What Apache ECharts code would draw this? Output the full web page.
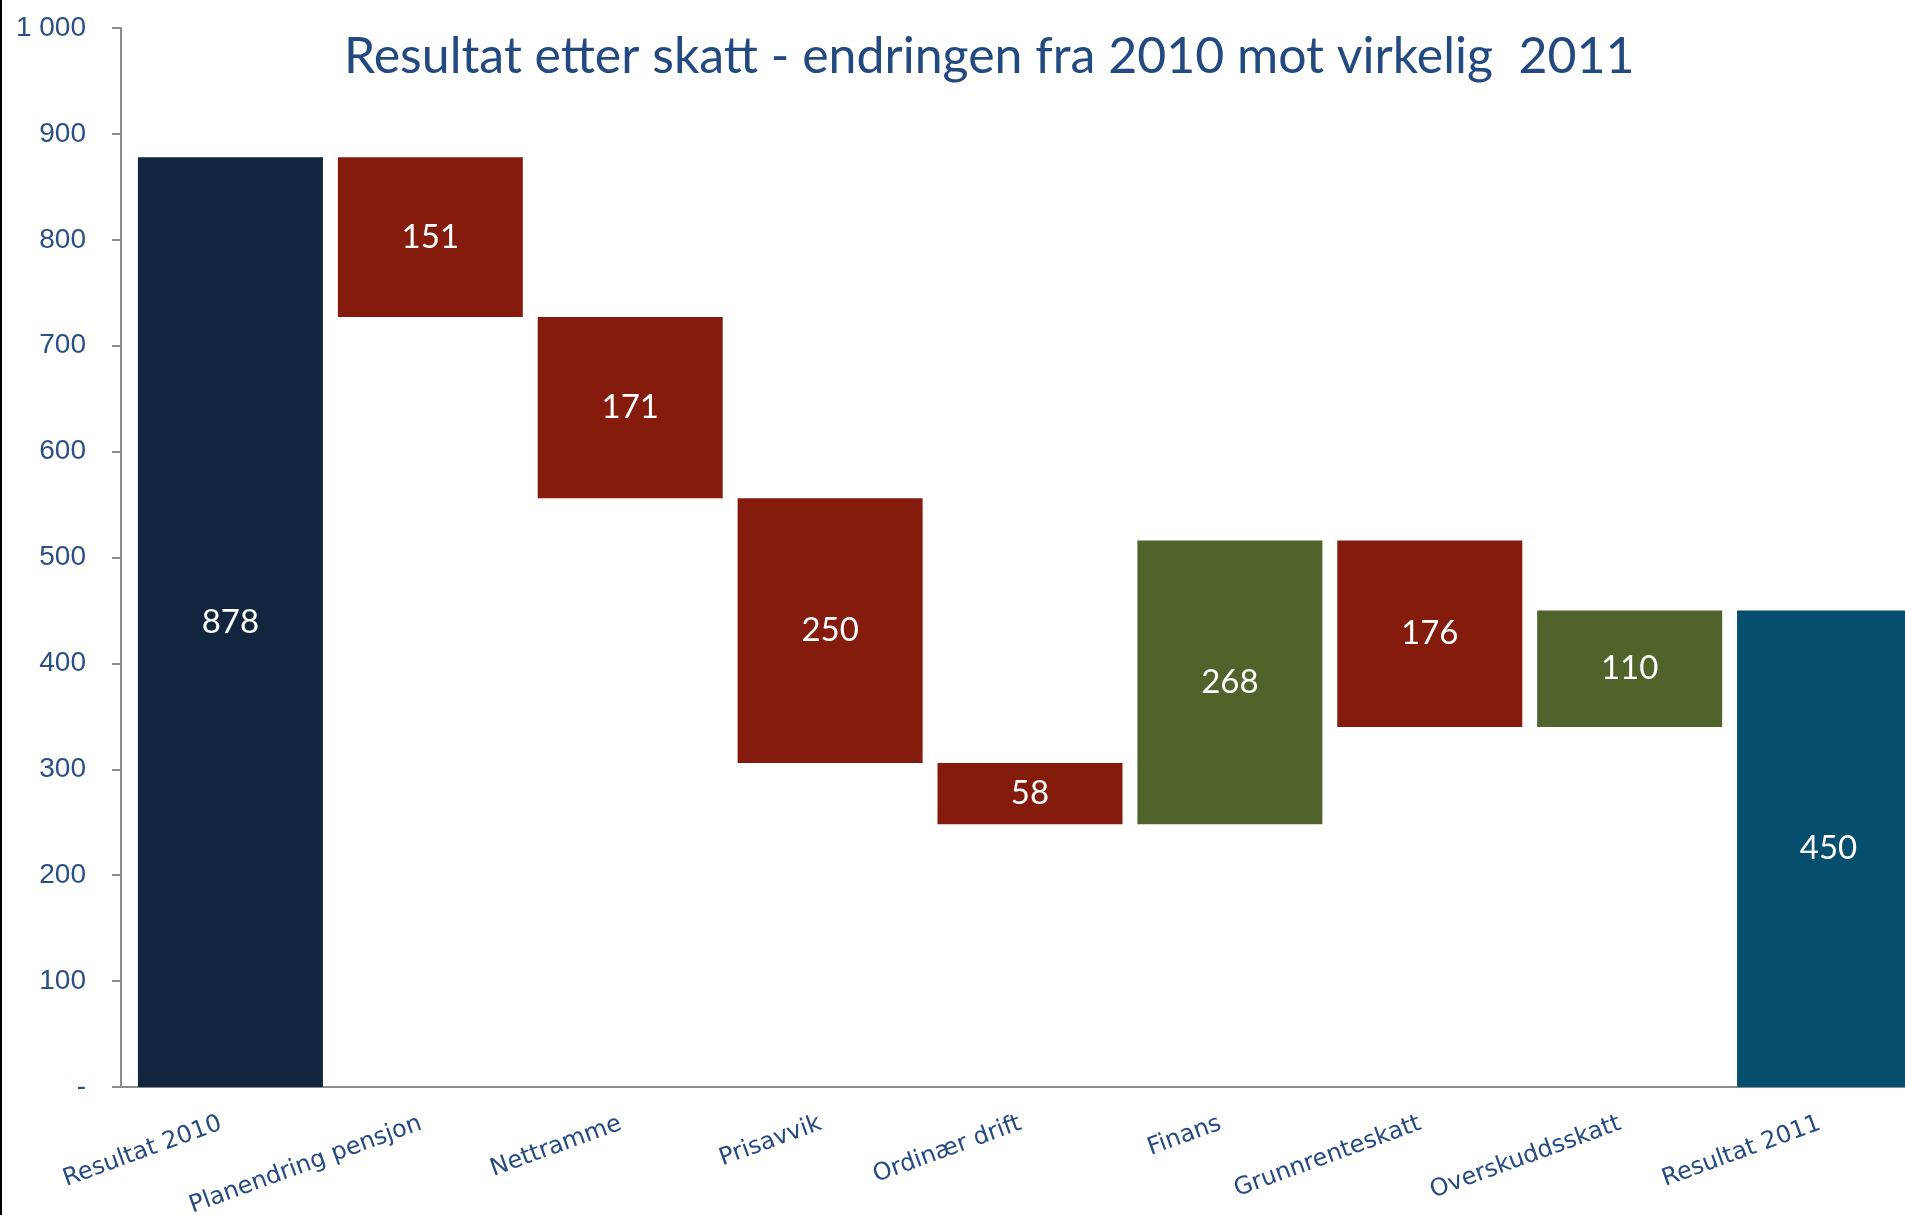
<!DOCTYPE html>
<html><head><meta charset="utf-8">
<script src="https://cdn.jsdelivr.net/npm/echarts@6/dist/echarts.min.js"></script>
<style>html,body{margin:0;padding:0;background:#fff;overflow:hidden;}#c{position:absolute;left:0;top:0;width:1905px;height:1215px;}#b{position:absolute;left:0;top:0;width:2px;height:1215px;background:#000;}</style>
</head><body><div id="c"></div><div id="b"></div>
<script>
const categories = ['Resultat 2010','Planendring pensjon','Nettramme','Prisavvik','Ordinær drift','Finans','Grunnrenteskatt','Overskuddsskatt','Resultat 2011'];
const changes = [878, -151, -171, -250, -58, 268, -176, 110, 450];
const kinds = ['total','delta','delta','delta','delta','delta','delta','delta','total'];
const yTicks = ['-', '100','200','300','400','500','600','700','800','900','1 000'];

const COL_START = '#12253F', COL_END = '#054E6E', COL_NEG = '#841B0C', COL_POS = '#50632A';
let running = 0;
const base = [], heights = [], colors = [];
changes.forEach((v, i) => {
  if (kinds[i] === 'total') {
    base.push(0); heights.push(v); running = v;
    colors.push(i === 0 ? COL_START : COL_END);
  } else {
    const next = running + v;
    base.push(Math.min(running, next));
    heights.push(Math.abs(v));
    colors.push(v < 0 ? COL_NEG : COL_POS);
    running = next;
  }
});

const chart = echarts.init(document.getElementById('c'));
chart.setOption({
  animation: false,
  title: {
    text: 'Resultat etter skatt - endringen fra 2010 mot virkelig  2011',
    left: 339, top: 27,
    textStyle: {fontFamily: 'Lato', fontWeight: 'normal', fontSize: 50, color: '#234A80'}
  },
  grid: {left: 121, top: 28, bottom: 128, width: 1799, containLabel: false, outerBoundsMode: 'none'},
  xAxis: {
    type: 'category', data: categories,
    axisLine: {lineStyle: {color: '#8C8C8C', width: 2}},
    axisTick: {length: 10, lineStyle: {color: '#8C8C8C', width: 2}},
    axisLabel: {rotate: 20, margin: 36, interval: 0, fontFamily: 'DejaVu Sans', fontSize: 24, color: '#254A80'}
  },
  yAxis: {
    type: 'value', min: 0, max: 1000, interval: 100,
    axisLine: {show: true, lineStyle: {color: '#8C8C8C', width: 2}},
    axisTick: {show: true, length: 9, lineStyle: {color: '#8C8C8C', width: 2}},
    splitLine: {show: false},
    axisLabel: {margin: 35, fontFamily: 'Liberation Sans', fontSize: 28, color: '#2A4F86',
      formatter: v => yTicks[Math.round(v / 100)]}
  },
  series: [
    {type: 'bar', stack: 'pad', data: categories.map(() => '-'), barWidth: 19, barGap: 0, silent: true},
    {type: 'bar', stack: 'w', data: base, itemStyle: {color: 'transparent'}, barWidth: 185, barGap: 0, silent: true},
    {type: 'bar', stack: 'w', barWidth: 185, barGap: 0,
      data: heights.map((h, i) => ({value: h, itemStyle: {color: colors[i]}})),
      label: {show: true, position: 'inside', color: '#fff', fontFamily: 'Lato', fontSize: 33,
        formatter: p => String(Math.abs(changes[p.dataIndex]))}}
  ]
});
</script></body></html>
